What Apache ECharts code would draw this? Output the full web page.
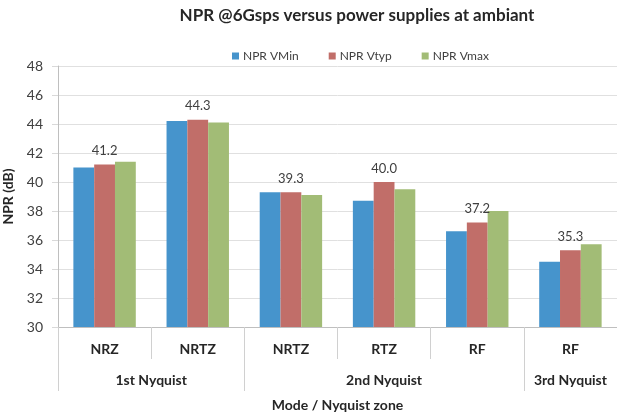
<!DOCTYPE html>
<html>
<head>
<meta charset="utf-8">
<script src="https://cdn.jsdelivr.net/npm/echarts@6/dist/echarts.min.js"></script>
<style>
  html, body { margin: 0; padding: 0; background: #ffffff; }
  #chart { width: 617px; height: 417px; }
</style>
</head>
<body>
<div id="chart"></div>
<script>
// Modes tested (first axis level) and the Nyquist zones that group them
const modes = ['NRZ', 'NRTZ', 'NRTZ', 'RTZ', 'RF', 'RF'];
const zones = ['1st Nyquist', '2nd Nyquist', '3rd Nyquist'];
const zoneSizes = [2, 3, 1];

// NPR in dB for each supply corner
const vMin = [41.0, 44.2, 39.3, 38.7, 36.6, 34.5];
const vTyp = [41.2, 44.3, 39.3, 40.0, 37.2, 35.3];
const vMax = [41.4, 44.1, 39.1, 39.5, 38.0, 35.7];

const yTicks = { min: 30, max: 48, step: 2 };

const FONT = 'Lato, "Open Sans", sans-serif';
const TEXT = '#404040';

// Zone axis: half-category slots (boundaryGap off), one zone label at each zone's centre
// and a separator tick at each zone boundary.
const slots = modes.length * 2 + 1;
const zoneLabels = new Array(slots).fill('');
const zoneEdges = new Set([0]);
let start = 0;
zones.forEach((z, i) => {
  const end = start + zoneSizes[i];
  zoneLabels[start + end] = z;
  zoneEdges.add(end * 2);
  start = end;
});

const chart = echarts.init(document.getElementById('chart'));
chart.setOption({
  backgroundColor: '#ffffff',
  animation: false,
  title: {
    text: 'NPR @6Gsps versus power supplies at ambiant',
    left: 352,
    top: 2,
    textAlign: 'center',
    textStyle: { fontFamily: FONT, fontSize: 17, fontWeight: 'bold', color: '#262626' }
  },
  legend: {
    left: 227,
    top: 45,
    itemWidth: 7,
    itemHeight: 7,
    itemGap: 30,
    icon: 'rect',
    textStyle: { fontFamily: FONT, fontSize: 12, color: TEXT, padding: [0, 0, 0, -1] },
    data: ['NPR VMin', 'NPR Vtyp', 'NPR Vmax']
  },
  grid: { left: 58, right: 0, top: 66, bottom: 90, containLabel: false, outerBoundsMode: 'none' },
  xAxis: [
    {
      type: 'category',
      data: modes,
      position: 'bottom',
      axisLine: { show: true, lineStyle: { color: '#bfbfbf', width: 1 } },
      axisTick: { show: true, length: 32, lineStyle: { color: '#d0d0d0' } },
      axisLabel: {
        interval: 0, margin: 15,
        fontFamily: FONT, fontSize: 14, fontWeight: 'bold', color: '#262626'
      },
      splitLine: { show: false }
    },
    {
      type: 'category',
      data: zoneLabels,
      boundaryGap: false,
      position: 'bottom',
      axisLine: { show: false },
      axisTick: {
        show: true, length: 64,
        interval: (i) => zoneEdges.has(i),
        lineStyle: { color: '#d0d0d0' }
      },
      axisLabel: {
        interval: 0, margin: 46,
        fontFamily: FONT, fontSize: 14, fontWeight: 'bold', color: '#262626'
      },
      name: 'Mode / Nyquist zone',
      nameLocation: 'middle',
      nameGap: 71,
      nameTextStyle: { fontFamily: FONT, fontSize: 14, fontWeight: 'bold', color: '#262626' },
      splitLine: { show: false }
    }
  ],
  yAxis: {
    type: 'value',
    min: yTicks.min,
    max: yTicks.max,
    interval: yTicks.step,
    axisLine: { show: true, lineStyle: { color: '#bfbfbf' } },
    axisTick: { show: true, length: 6, lineStyle: { color: '#d9d9d9' } },
    axisLabel: { margin: 15, fontFamily: FONT, fontSize: 14, color: TEXT },
    splitLine: { show: true, lineStyle: { color: '#e0e0e0', width: 1 } },
    name: 'NPR (dB)',
    nameLocation: 'middle',
    nameGap: 31,
    nameTextStyle: { fontFamily: FONT, fontSize: 14, fontWeight: 'bold', color: '#262626' }
  },
  series: [
    {
      name: 'NPR VMin', type: 'bar', data: vMin, xAxisIndex: 0,
      barGap: '0%', barCategoryGap: '33%',
      itemStyle: { color: '#4694CC' }
    },
    {
      name: 'NPR Vtyp', type: 'bar', data: vTyp, xAxisIndex: 0,
      barGap: '0%', barCategoryGap: '33%',
      itemStyle: { color: '#C16E69' },
      label: {
        show: true, position: 'top', distance: 7,
        formatter: (p) => p.value.toFixed(1),
        fontFamily: FONT, fontSize: 13, color: TEXT
      }
    },
    {
      name: 'NPR Vmax', type: 'bar', data: vMax, xAxisIndex: 0,
      barGap: '0%', barCategoryGap: '33%',
      itemStyle: { color: '#A2BC76' }
    }
  ]
});
</script>
</body>
</html>
